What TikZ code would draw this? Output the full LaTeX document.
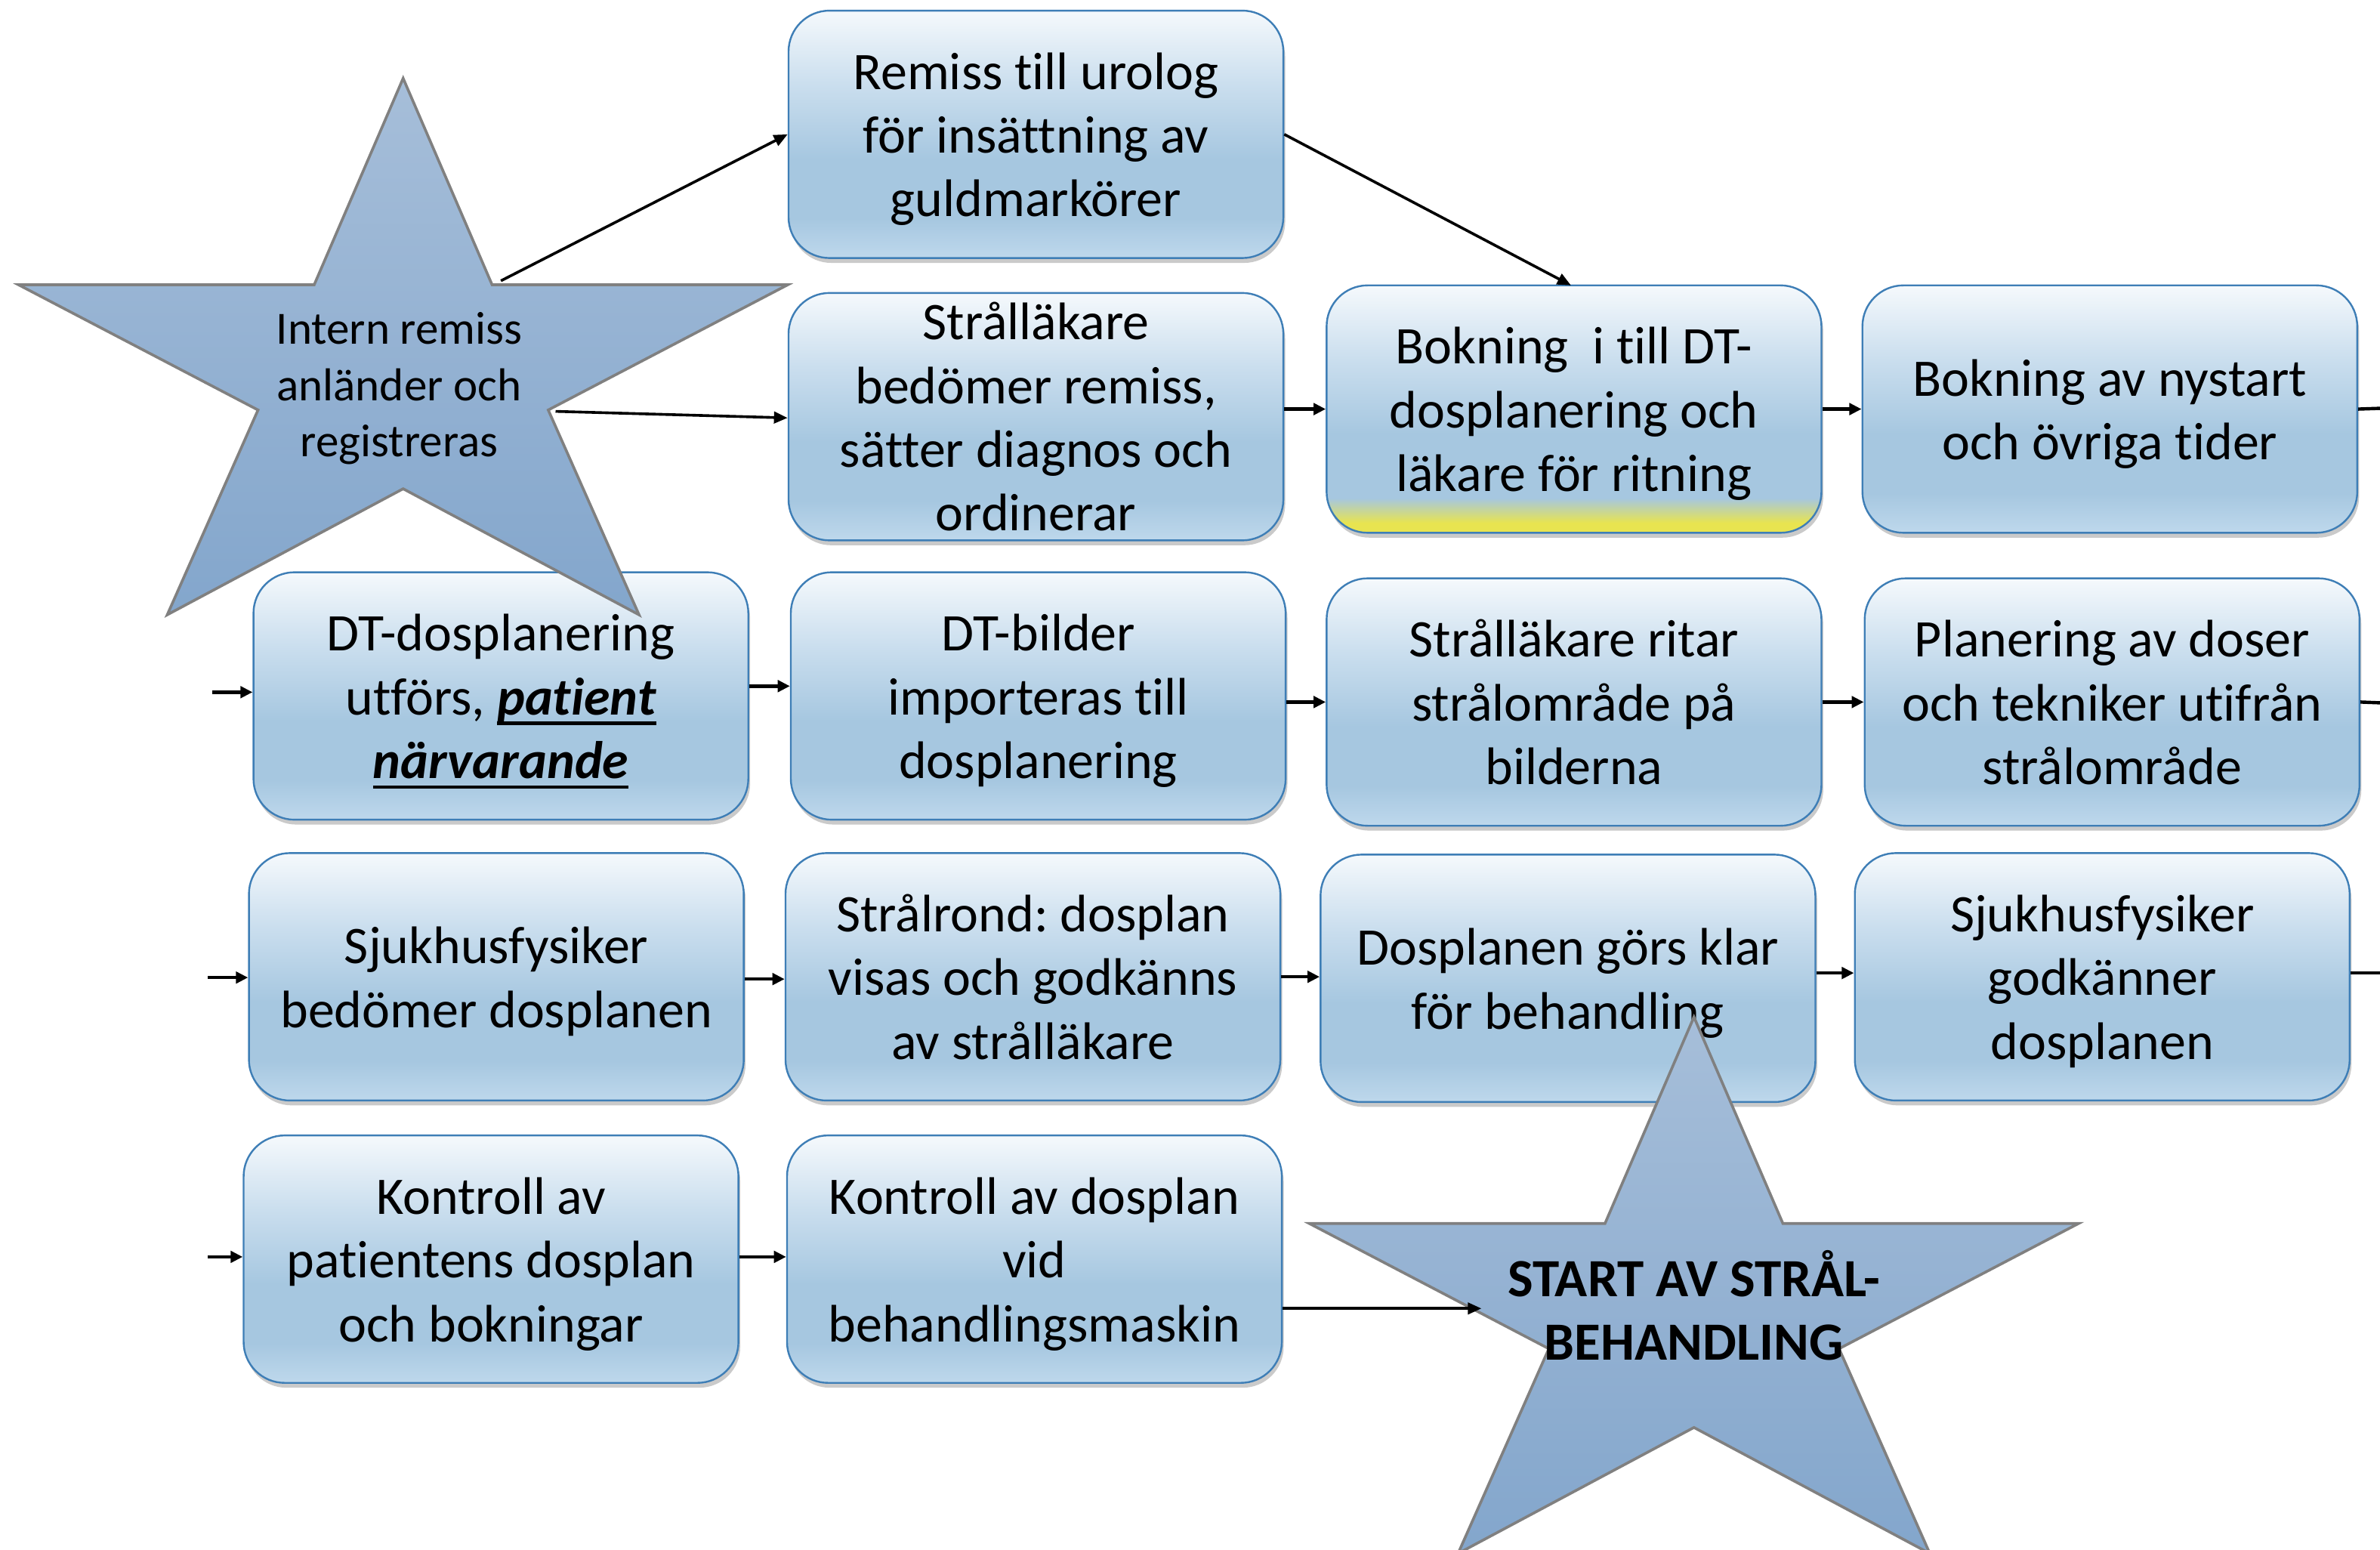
\documentclass[tikz,border=0pt]{standalone}
\usepackage{fontspec}
\setmainfont{Carlito}[Ligatures=NoCommon]
\frenchspacing
\usetikzlibrary{shadows,arrows.meta}
\definecolor{bxa}{RGB}{190,216,236}
\definecolor{bxb}{RGB}{166,199,224}
\definecolor{bxc}{RGB}{202,222,238}
\definecolor{bxd}{RGB}{245,249,252}
\definecolor{yel}{RGB}{232,228,80}
\definecolor{bxedge}{RGB}{62,126,182}
\definecolor{sttop}{RGB}{166,190,217}
\definecolor{stbot}{RGB}{131,166,204}
\definecolor{stedge}{RGB}{128,128,128}
\pgfdeclareverticalshading{boxshade}{100bp}{color(0bp)=(bxa); color(25bp)=(bxa); color(33bp)=(bxb); color(45bp)=(bxb); color(60bp)=(bxc); color(75bp)=(bxd); color(100bp)=(bxd)}
\pgfdeclareverticalshading{yelshade}{100bp}{color(0bp)=(yel); color(25bp)=(yel); color(27bp)=(yel); color(32bp)=(bxb); color(45bp)=(bxb); color(60bp)=(bxc); color(75bp)=(bxd); color(100bp)=(bxd)}
\newcommand\linestrut{\rule[-4.35pt]{0pt}{21pt}}
\newcommand\thickul[1]{\leavevmode\setbox0\hbox{#1}\rlap{\rule[-3.4pt]{\wd0}{1.1pt}}\box0}
\tikzset{
  box/.style={draw=bxedge, line width=0.6pt, rounded corners=13.5pt, shading=boxshade,
    minimum width=163pt, minimum height=81.5pt, inner sep=0pt, align=flush center,
    text width=160pt,
    font=\fontsize{17.4}{21}\selectfont,
    execute at begin node=\linestrut, execute at end node=\linestrut,
    drop shadow={shadow xshift=0.6pt, shadow yshift=-1.6pt, opacity=0.35, fill=black!60}},
  arr/.style={-{Triangle[length=4pt,width=3.8pt]}, line width=1.1pt},
  larr/.style={-{Triangle[length=4.5pt,width=3.8pt]}, line width=0.9pt},
  stub/.style={line width=1.1pt},
  startext/.style={align=center, inner sep=0pt},
  bigstar/.pic={\draw[draw=stedge, line width=0.9pt, top color=sttop, bottom color=stbot]
    (0,0) -- (-58.6,136) -- (-253.4,136) -- (-95.6,218.5) -- (-155.4,353.4) -- (0,270.4)
    -- (155.4,353.4) -- (95.6,218.5) -- (253.4,136) -- (58.6,136) -- cycle;}
}
\begin{document}
\begin{tikzpicture}[x=0.5pt,y=-0.5pt]
\useasboundingbox (0,0) rectangle (1568,1021);
% boxes
\node[box] (remiss) at (682.5,88.5) {Remiss till urolog\\för insättning av\\guldmarkörer};
\node[box, inner ysep=-1.25pt] (bedomer) at (682.5,274.5) {Strålläkare\\bedömer remiss,\\sätter diagnos och\\ordinerar};
\node[box, shading=yelshade] (bokdt) at (1037,269.5) {Bokning\ \ i till DT-\\dosplanering och\\läkare för ritning};
\node[box] (boknys) at (1390,269.5) {Bokning av nystart\\och övriga tider};
\node[box] (dtdos) at (330,458.5) {DT-dosplanering\\utförs, \thickul{\textbf{\textit{patient}}}\\\thickul{\textbf{\textit{närvarande}}}};
\node[box] (dtbild) at (684,458.5) {DT-bilder\\importeras till\\dosplanering};
\node[box] (ritar) at (1037,462.5) {Strålläkare ritar\\strålområde på\\bilderna};
\node[box] (plan) at (1391.5,462.5) {Planering av doser\\och tekniker utifrån\\strålområde};
\node[box] (fysbed) at (327,643.5) {Sjukhusfysiker\\bedömer dosplanen};
\node[box] (rond) at (680.5,643.5) {Strålrond: dosplan\\visas och godkänns\\av strålläkare};
\node[box] (klar) at (1033,644.5) {Dosplanen görs klar\\för behandling};
\node[box] (fysgod) at (1385,643.5) {Sjukhusfysiker\\godkänner\\dosplanen};
\node[box] (kpat) at (323.5,829.5) {Kontroll av\\patientens dosplan\\och bokningar};
\node[box] (kmask) at (681.5,829.5) {Kontroll av dosplan\\vid\\behandlingsmaskin};
% stars
\pic at (265.6,51.6) {bigstar};
\pic at (1116,670) {bigstar};
\node[startext, font=\fontsize{15.2}{18.5}\selectfont] (s1) at (263,256) {Intern remiss\\anländer och\\registreras};
\node[startext, font=\fontsize{17.7}{21}\selectfont\bfseries] (s2) at (1116,860) {START AV STRÅL-\\BEHANDLING};
% free ends
\coordinate (s1a) at (330,185);
\coordinate (s1b) at (366,271);
\coordinate (s2in) at (976,862);
\coordinate (l3) at (140,456);
\coordinate (l4) at (137,644);
\coordinate (l5) at (137,828);
\coordinate (r2) at (1568,269);
\coordinate (r3) at (1568,463);
\coordinate (r4) at (1568,641);
\coordinate (bokdttop) at (1035,188);
% connectors
\draw[larr] (s1a) -- (remiss.west);
\draw[larr] (s1b) -- ([yshift=-0.4pt]bedomer.west);
\draw[larr] (remiss.east) -- (bokdttop);
\draw[arr] (bedomer.east |- bokdt.west) -- (bokdt.west);
\draw[arr] (bokdt.east) -- (boknys.west);
\draw[stub] (boknys.east) -- (r2);
\draw[arr] (l3) -- (dtdos.west |- l3);
\draw[arr] ([yshift=3.25pt]dtdos.east) -- ([yshift=3.25pt]dtbild.west);
\draw[arr] (dtbild.east |- ritar.west) -- (ritar.west);
\draw[arr] (ritar.east) -- (plan.west);
\draw[stub] (plan.east) -- (r3);
\draw[arr] (l4) -- (fysbed.west |- l4);
\draw[arr] ([yshift=-0.75pt]fysbed.east) -- ([yshift=-0.75pt]rond.west);
\draw[arr] (rond.east) -- (rond.east -| klar.west);
\draw[arr] ([yshift=1.75pt]klar.east) -- ([yshift=1.75pt]klar.east -| fysgod.west);
\draw[stub] ([yshift=1.25pt]fysgod.east) -- (r4);
\draw[arr] (l5) -- (kpat.west |- l5);
\draw[arr] ([yshift=0.75pt]kpat.east) -- ([yshift=0.75pt]kmask.west);
\draw[larr] (kmask.east |- s2in) -- (s2in);
\end{tikzpicture}
\end{document}
